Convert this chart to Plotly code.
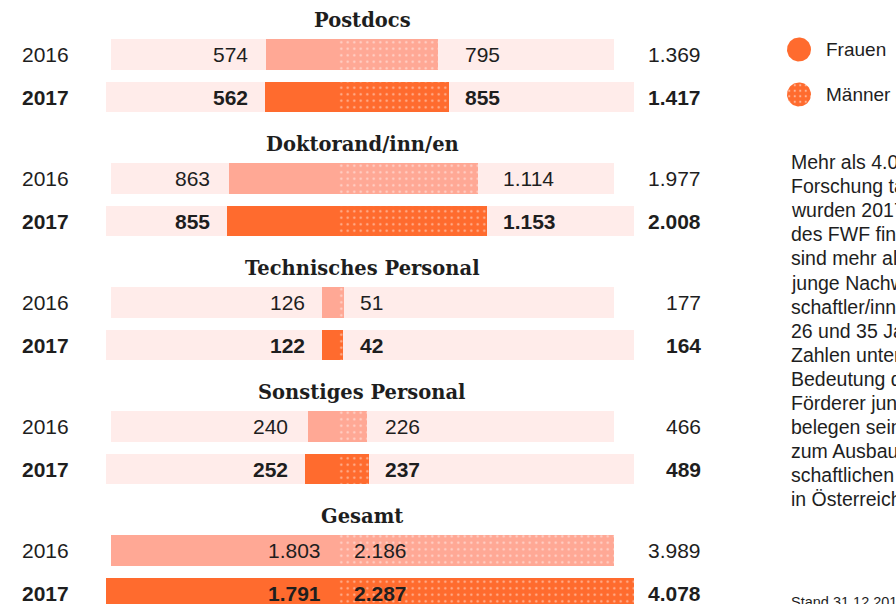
import math
import plotly.graph_objects as go

# ---------------- data ----------------
categories = ["Postdocs", "Doktorand/inn/en", "Technisches Personal", "Sonstiges Personal", "Gesamt"]
years = ["2016", "2017"]
frauen_2016 = [574, 863, 126, 240, 1803]
maenner_2016 = [795, 1114, 51, 226, 2186]
gesamt_2016 = [1369, 1977, 177, 466, 3989]
frauen_2017 = [562, 855, 122, 252, 1791]
maenner_2017 = [855, 1153, 42, 237, 2287]
gesamt_2017 = [1417, 2008, 164, 489, 4078]
legend_labels = ["Frauen", "Männer"]
text_lines = [
    "Mehr als 4.000 in der",
    "Forschung tätige Personen",
    "wurden 2017 aus Mitteln",
    "des FWF finanziert. Davon",
    "sind mehr als 2.800",
    "junge Nachwuchswissen-",
    "schaftler/innen zwischen",
    "26 und 35 Jahren. Diese",
    "Zahlen unterstreichen die",
    "Bedeutung des FWF als",
    "Förderer junger Talente und",
    "belegen seinen Beitrag",
    "zum Ausbau der wissen-",
    "schaftlichen Humanressourcen",
    "in Österreich.",
]
footnote = "Stand 31.12.2017"

# ---------------- layout / style ----------------
W, H = 896, 604
CENTER = 338                      # pixel position of the zero line
SCALE = {"2016": 0.1261, "2017": 0.1295}   # px per person (as drawn in original)
AXIS = {"2016": "x", "2017": "x2"}
FIRST_ROW, ROW_STEP, GROUP_STEP, BAR_H = 54.5, 42.5, 124, 30.5
COL_F = {"2016": "#FFA895", "2017": "#FF6B2E"}
COL_BG = "#FFECEA"
TXT = "#1e1e1e"
SANS = "Liberation Sans, Arial, sans-serif"
SERIF = "DejaVu Serif, serif"

data = {
    "2016": (frauen_2016, maenner_2016, gesamt_2016),
    "2017": (frauen_2017, maenner_2017, gesamt_2017),
}


def fmt(v):
    return f"{v:,}".replace(",", ".")


def row_y(g, yi):
    return FIRST_ROW + g * GROUP_STEP + yi * ROW_STEP


fig = go.Figure()
annotations = []

for yi, yr in enumerate(years):
    fr, ma, ge = data[yr]
    ys = [row_y(g, yi) for g in range(len(categories))]
    xa = AXIS[yr]
    n = len(categories)
    # background (total extent of the year)
    fig.add_trace(go.Bar(
        orientation="h", y=ys, x=[fr[-1] + ma[-1]] * n, base=[-fr[-1]] * n,
        width=BAR_H, marker=dict(color=COL_BG, line=dict(width=0)),
        xaxis=xa, yaxis="y", showlegend=False, hoverinfo="skip"))
    # women
    fig.add_trace(go.Bar(
        orientation="h", y=ys, x=[-v for v in fr], base=[0] * n,
        width=BAR_H, marker=dict(color=COL_F[yr], line=dict(width=0)),
        xaxis=xa, yaxis="y", showlegend=False, name="Frauen " + yr))
    # men (dotted)
    fig.add_trace(go.Bar(
        orientation="h", y=ys, x=ma, base=[0] * n,
        width=BAR_H,
        marker=dict(color=COL_F[yr], line=dict(width=0),
                    pattern=dict(shape=".", fgcolor="white", bgcolor=COL_F[yr],
                                 size=6.5, solidity=0.1, fillmode="overlay")),
        xaxis=xa, yaxis="y", showlegend=False, name="Männer " + yr))

    bold = yr == "2017"
    fnt = dict(family=SANS, size=21, color=TXT, weight="bold" if bold else "normal")
    for g in range(n):
        y = row_y(g, yi)
        annotations.append(dict(xref="paper", yref="y", x=20 / W, y=y, text=yr,
                                xanchor="left", yanchor="middle", showarrow=False, font=fnt))
        annotations.append(dict(xref="paper", yref="y", x=703 / W, y=y, text=fmt(ge[g]),
                                xanchor="right", yanchor="middle", showarrow=False, font=fnt))
        is_total = g == n - 1
        # women label: left of the wider of the two women bars in the group
        if is_total:
            fx, fref = 0, "x"
            mx, mref = 0, "x"
        else:
            f16, f17 = frauen_2016[g] * SCALE["2016"], frauen_2017[g] * SCALE["2017"]
            fx, fref = (-frauen_2016[g], "x") if f16 >= f17 else (-frauen_2017[g], "x2")
            m16, m17 = maenner_2016[g] * SCALE["2016"], maenner_2017[g] * SCALE["2017"]
            mx, mref = (maenner_2016[g], "x") if m16 >= m17 else (maenner_2017[g], "x2")
        annotations.append(dict(xref=fref, yref="y", x=fx, y=y, text=fmt(fr[g]),
                                xanchor="right", yanchor="middle", xshift=-15,
                                showarrow=False, font=fnt))
        annotations.append(dict(xref=mref, yref="y", x=mx, y=y, text=fmt(ma[g]),
                                xanchor="left", yanchor="middle", xshift=14,
                                showarrow=False, font=fnt))

# group headings
for g, cat in enumerate(categories):
    annotations.append(dict(xref="paper", yref="y", x=362 / W, y=row_y(g, 0) - 34.5,
                            text=f"<b>{cat}</b>", xanchor="center", yanchor="middle",
                            showarrow=False, font=dict(family=SERIF, size=19.5, color=TXT)))

# legend (custom circles in pixel space on x3)
LEG_X, LEG_Y, LEG_R = 799, [49.5, 94.5], 12
for i, lab in enumerate(legend_labels):
    cx, cy = LEG_X, LEG_Y[i]
    pts = [2 * math.pi * k / 72 for k in range(73)]
    kw = dict(x=[cx + LEG_R * math.cos(t) for t in pts],
              y=[cy + LEG_R * math.sin(t) for t in pts],
              mode="lines", fill="toself", fillcolor=COL_F["2017"],
              line=dict(width=0, color=COL_F["2017"]),
              xaxis="x3", yaxis="y", showlegend=False, hoverinfo="skip")
    if i == 1:
        kw["fillpattern"] = dict(shape=".", fgcolor="white", bgcolor=COL_F["2017"],
                                 size=5.5, solidity=0.12, fillmode="overlay")
    fig.add_trace(go.Scatter(**kw))
    annotations.append(dict(xref="paper", yref="y", x=824 / W, y=cy, text=lab,
                            xanchor="left", yanchor="middle", showarrow=False,
                            font=dict(family=SANS, size=19, color=TXT)))

# body text
for i, line in enumerate(text_lines):
    annotations.append(dict(xref="paper", yref="y", x=789 / W, y=162 + 24.1 * i, text=line,
                            xanchor="left", yanchor="middle", showarrow=False,
                            font=dict(family=SANS, size=19.5, color=TXT)))
annotations.append(dict(xref="paper", yref="y", x=789 / W, y=602, text=footnote,
                        xanchor="left", yanchor="middle", showarrow=False,
                        font=dict(family=SANS, size=14.5, color=TXT)))

hidden = dict(visible=False, showgrid=False, zeroline=False, fixedrange=True)
fig.update_layout(
    width=W, height=H, margin=dict(l=0, r=0, t=0, b=0, pad=0),
    paper_bgcolor="white", plot_bgcolor="white",
    barmode="overlay", bargap=0, showlegend=False,
    xaxis=dict(range=[-CENTER / SCALE["2016"], (W - CENTER) / SCALE["2016"]], domain=[0, 1], **hidden),
    xaxis2=dict(range=[-CENTER / SCALE["2017"], (W - CENTER) / SCALE["2017"]], overlaying="x", **hidden),
    xaxis3=dict(range=[0, W], overlaying="x", **hidden),
    yaxis=dict(range=[H, 0], domain=[0, 1], **hidden),
    annotations=annotations,
)
fig.write_html(
    "out.html",
    config={"displayModeBar": False, "staticPlot": True},
    post_script="document.body.style.margin='0px';document.body.style.overflow='hidden';",
)
